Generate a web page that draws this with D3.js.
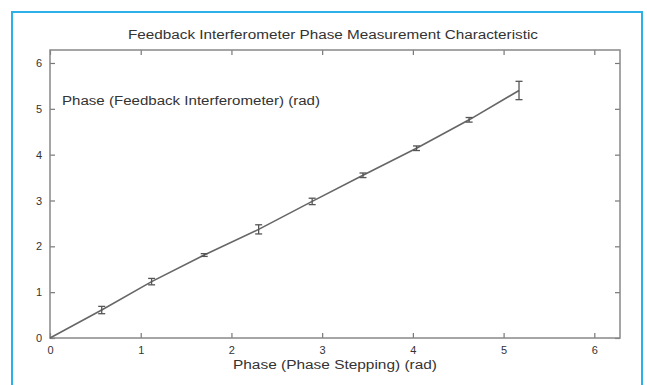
<!DOCTYPE html>
<html>
<head>
<meta charset="utf-8">
<script src="https://cdn.jsdelivr.net/npm/d3@7"></script>
<style>
  body { margin: 0; background: #fff; }
  svg text { font-family: "Liberation Sans", Arial, sans-serif; fill: #333; }
</style>
</head>
<body>
<div id="chart"></div>
<script>
// measured points (rad)
var phaseStep = [0, 0.57, 1.12, 1.70, 2.30, 2.89, 3.45, 4.04, 4.62, 5.17];
var phaseFb   = [0, 0.61, 1.23, 1.81, 2.37, 2.98, 3.55, 4.14, 4.76, 5.40];
var phaseErr  = [0, 0.08, 0.07, 0.03, 0.10, 0.07, 0.05, 0.05, 0.05, 0.20];
var xTicks = [0, 1, 2, 3, 4, 5, 6];
var yTicks = [0, 1, 2, 3, 4, 5, 6];

var W = 647, H = 385;
var margin = {top: 50, right: 27, bottom: 47, left: 50},
    width = W - margin.left - margin.right,
    height = H - margin.top - margin.bottom;

var svg = d3.select("#chart").append("svg")
    .attr("width", W)
    .attr("height", H);

// blue frame round the figure
svg.append("path")
    .attr("d", "M12," + (H + 5) + "V12H642V" + (H + 5))
    .attr("fill", "none")
    .attr("stroke", "#2bb0e8")
    .attr("stroke-width", 2);

var g = svg.append("g")
    .attr("transform", "translate(" + margin.left + "," + margin.top + ")");

var x = d3.scaleLinear().domain([0, 2 * Math.PI]).range([0, width]);
var y = d3.scaleLinear().domain([0, 2 * Math.PI]).range([height, 0]);

// matlab style box, ticks pointing in
function styleAxis(a) {
  a.select(".domain").remove();
  a.selectAll(".tick line").attr("stroke", "#777").attr("stroke-width", 1.2);
  a.selectAll(".tick text").style("font-size", "11px").attr("fill", "#333");
}

g.append("g")
    .attr("transform", "translate(0," + height + ")")
    .call(d3.axisBottom(x).tickValues(xTicks).tickSizeInner(-5).tickSizeOuter(0).tickPadding(8).tickFormat(d3.format("d")))
    .call(styleAxis);
g.append("g")
    .call(d3.axisTop(x).tickValues(xTicks).tickSizeInner(-5).tickSizeOuter(0).tickFormat(""))
    .call(styleAxis);
g.append("g")
    .call(d3.axisLeft(y).tickValues(yTicks).tickSizeInner(-5).tickSizeOuter(0).tickPadding(8).tickFormat(d3.format("d")))
    .call(styleAxis);
g.append("g")
    .attr("transform", "translate(" + width + ",0)")
    .call(d3.axisRight(y).tickValues(yTicks).tickSizeInner(-5).tickSizeOuter(0).tickFormat(""))
    .call(styleAxis);

g.append("rect")
    .attr("width", width)
    .attr("height", height)
    .attr("fill", "none")
    .attr("stroke", "#888")
    .attr("stroke-width", 1.5);

var pts = phaseStep.map(function(d, i) { return {x: d, y: phaseFb[i], e: phaseErr[i]}; });

var line = d3.line()
    .x(function(d) { return x(d.x); })
    .y(function(d) { return y(d.y); });

g.append("path")
    .datum(pts)
    .attr("d", line)
    .attr("fill", "none")
    .attr("stroke", "#666")
    .attr("stroke-width", 1.6);

// error bars
var eb = g.selectAll(".eb")
    .data(pts.filter(function(d) { return d.e > 0; }))
    .enter().append("g")
    .attr("class", "eb")
    .attr("stroke", "#555")
    .attr("stroke-width", 1.3);

eb.append("line")
    .attr("x1", function(d) { return x(d.x); })
    .attr("x2", function(d) { return x(d.x); })
    .attr("y1", function(d) { return y(d.y - d.e); })
    .attr("y2", function(d) { return y(d.y + d.e); });
eb.append("line")
    .attr("x1", function(d) { return x(d.x) - 3.5; })
    .attr("x2", function(d) { return x(d.x) + 3.5; })
    .attr("y1", function(d) { return y(d.y - d.e); })
    .attr("y2", function(d) { return y(d.y - d.e); });
eb.append("line")
    .attr("x1", function(d) { return x(d.x) - 3.5; })
    .attr("x2", function(d) { return x(d.x) + 3.5; })
    .attr("y1", function(d) { return y(d.y + d.e); })
    .attr("y2", function(d) { return y(d.y + d.e); });

// texts
svg.append("text")
    .attr("x", 333)
    .attr("y", 39)
    .attr("text-anchor", "middle")
    .attr("textLength", 410)
    .attr("lengthAdjust", "spacingAndGlyphs")
    .style("font-size", "12px")
    .text("Feedback Interferometer Phase Measurement Characteristic");

svg.append("text")
    .attr("x", 62)
    .attr("y", 105)
    .attr("textLength", 258)
    .attr("lengthAdjust", "spacingAndGlyphs")
    .style("font-size", "12px")
    .text("Phase (Feedback Interferometer) (rad)");

svg.append("text")
    .attr("x", 335)
    .attr("y", 369)
    .attr("text-anchor", "middle")
    .attr("textLength", 204)
    .attr("lengthAdjust", "spacingAndGlyphs")
    .style("font-size", "12px")
    .text("Phase (Phase Stepping) (rad)");
</script>
</body>
</html>
